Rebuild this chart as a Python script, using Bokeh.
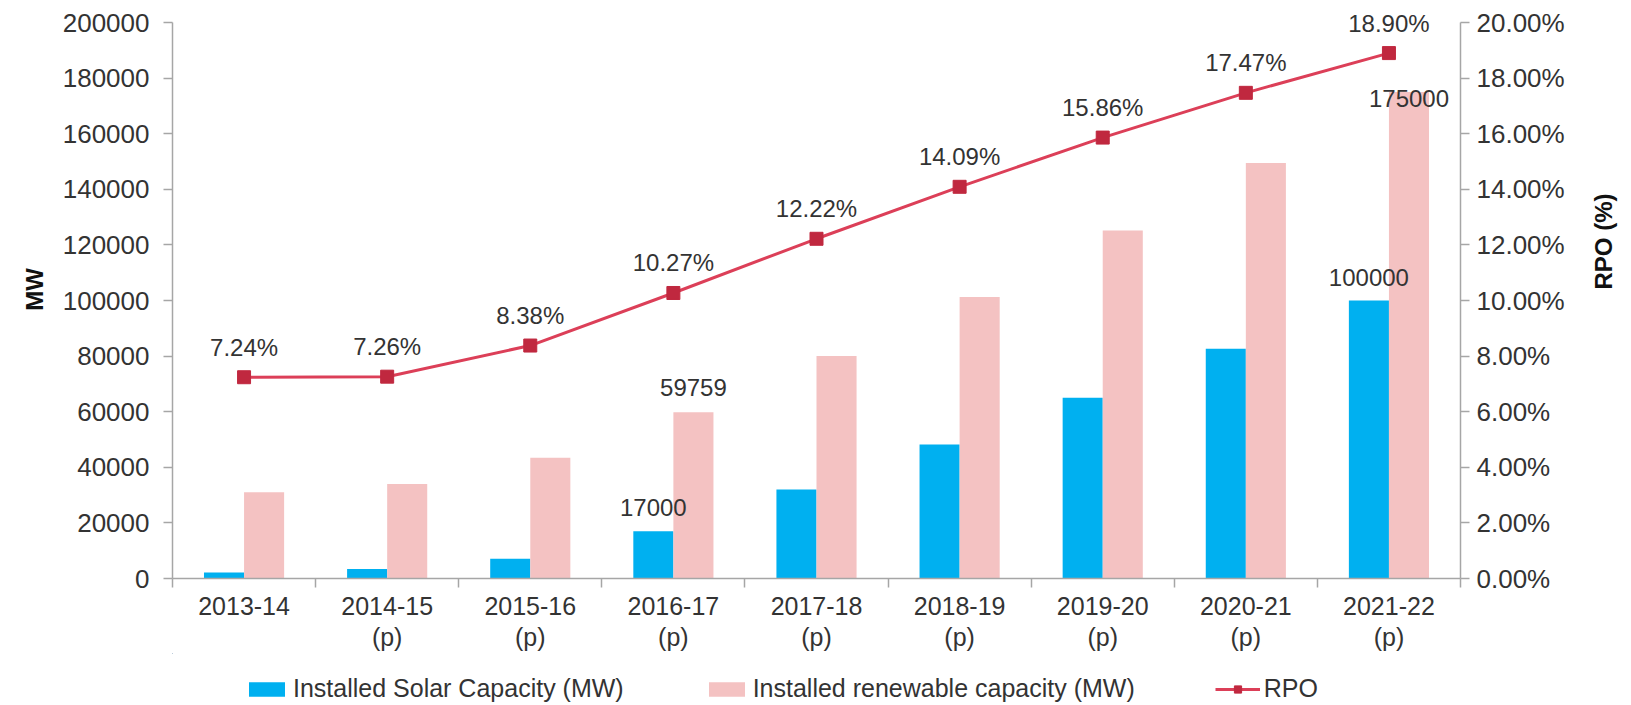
import math
from bokeh.plotting import figure
from bokeh.layouts import column
from bokeh.models import (ColumnDataSource, Range1d, LinearAxis, FixedTicker,
                          SingleIntervalTicker, PrintfTickFormatter, NumeralTickFormatter,
                          Legend, LegendItem)
from bokeh.transform import dodge
from bokeh.core.properties import value
from bokeh.embed import file_html
from bokeh.resources import INLINE

# ---------------- data ----------------
years = ["2013-14", "2014-15", "2015-16", "2016-17", "2017-18",
         "2018-19", "2019-20", "2020-21", "2021-22"]
year_notes = ["", "(p)", "(p)", "(p)", "(p)", "(p)", "(p)", "(p)", "(p)"]
solar_mw = [2200, 3400, 7100, 17000, 32000, 48200, 65000, 82600, 100000]
renewable_mw = [31000, 34000, 43400, 59759, 80000, 101300, 125200, 149500, 175000]
rpo_pct = [7.24, 7.26, 8.38, 10.27, 12.22, 14.09, 15.86, 17.47, 18.90]
# bars that carry a value label in the chart
solar_labelled = ["2016-17", "2021-22"]
renewable_labelled = ["2016-17", "2021-22"]
series_names = ["Installed Solar Capacity (MW)", "Installed renewable capacity (MW)", "RPO"]
MW_MAX = 200000
RPO_MAX = 20

FONT = "Liberation Sans"
TXT = "#333333"
AX = "#A6A6A6"
BLUE = "#00B0F0"
PINK = "#F4C2C2"
RED = "#DC3F58"
RED_D = "#C0283F"

# layout (pixels)
W = 1631
FRAME_W, AXIS_H, TOP_PAD = 1288, 556, 22
MAIN_H, LEG_H = 655, 50
stretch = (AXIS_H + TOP_PAD) / AXIS_H  # frame extends above the axis top to leave room for labels

xc = [i + 0.5 for i in range(len(years))]
src = ColumnDataSource(dict(x=xc, year=years, solar=solar_mw, ren=renewable_mw,
                            rpo=rpo_pct, rpo_txt=["%.2f%%" % v for v in rpo_pct]))

sl = [years.index(y) for y in solar_labelled]
rl = [years.index(y) for y in renewable_labelled]
src_sl = ColumnDataSource(dict(x=[xc[i] for i in sl], y=[solar_mw[i] for i in sl],
                               t=[str(solar_mw[i]) for i in sl], dy=[-24, -23]))
src_rl = ColumnDataSource(dict(x=[xc[i] for i in rl], y=[renewable_mw[i] for i in rl],
                               t=[str(renewable_mw[i]) for i in rl], dy=[-25, 6]))

p = figure(width=W, height=MAIN_H, frame_width=FRAME_W, frame_height=AXIS_H + TOP_PAD,
           output_backend="svg", toolbar_location=None,
           x_range=Range1d(0, len(years)), y_range=Range1d(0, MW_MAX * stretch),
           x_axis_location=None, y_axis_location=None,
           min_border_left=172, min_border_right=171, min_border_top=0,
           min_border_bottom=0, background_fill_color="white",
           border_fill_color="white", outline_line_color=None)
p.grid.visible = False
p.extra_y_ranges = {"rpo": Range1d(0, RPO_MAX * stretch)}

BW = 0.28
bar_solar = dict(fill_color=BLUE, line_color=None)
bar_ren = dict(fill_color=PINK, line_color=None)
line_sty = dict(line_color=RED, line_width=3)
mark_sty = dict(marker="square", size=13, fill_color=RED_D, line_color=RED_D)

p.vbar(x=dodge("x", -0.14, range=p.x_range), top="solar", width=BW, source=src, **bar_solar)
p.vbar(x=dodge("x", 0.14, range=p.x_range), top="ren", width=BW, source=src, **bar_ren)
p.line(x="x", y="rpo", source=src, y_range_name="rpo", **line_sty)
p.scatter(x="x", y="rpo", source=src, y_range_name="rpo", **mark_sty)

p.text(x="x", y="rpo", text="rpo_txt", source=src, y_range_name="rpo",
       text_align="center", text_baseline="middle", y_offset=-30,
       text_font=value(FONT), text_font_size="24px", text_color=TXT)
p.text(x=dodge("x", -0.14, range=p.x_range), y="y", text="t", source=src_sl,
       text_align="center", text_baseline="middle", y_offset="dy",
       text_font=value(FONT), text_font_size="24px", text_color=TXT)
p.text(x=dodge("x", 0.14, range=p.x_range), y="y", text="t", source=src_rl,
       text_align="center", text_baseline="middle", y_offset="dy",
       text_font=value(FONT), text_font_size="24px", text_color=TXT)

def style(ax):
    ax.axis_line_color = AX
    ax.axis_line_width = 1.5
    ax.major_tick_line_color = AX
    ax.major_tick_line_width = 1.5
    ax.major_tick_in = 0
    ax.major_tick_out = 9
    ax.minor_tick_line_color = None
    ax.major_label_text_font = FONT
    ax.major_label_text_font_size = "26px"
    ax.major_label_text_color = TXT
    ax.axis_label_text_font = FONT
    ax.axis_label_text_font_size = "24px"
    ax.axis_label_text_font_style = "bold"
    ax.axis_label_text_color = "#111111"

yl = LinearAxis(ticker=SingleIntervalTicker(interval=20000, num_minor_ticks=0),
                formatter=NumeralTickFormatter(format="0"), axis_label="MW",
                bounds=(0, MW_MAX))
style(yl)
yl.major_label_standoff = 14
yl.axis_label_standoff = 12
p.add_layout(yl, "left")

yr = LinearAxis(y_range_name="rpo", ticker=SingleIntervalTicker(interval=2, num_minor_ticks=0),
                formatter=PrintfTickFormatter(format="%.2f%%"), axis_label="RPO (%)",
                bounds=(0, RPO_MAX))
style(yr)
yr.major_label_standoff = 7
yr.axis_label_standoff = 36
yr.axis_label_orientation = math.pi / 2
p.add_layout(yr, "right")

# x axis: year labels at the category centres, tick marks on category boundaries
xa = LinearAxis(ticker=FixedTicker(ticks=xc, minor_ticks=list(range(len(years) + 1))),
                major_label_overrides={xc[i]: years[i] for i in range(len(years))})
style(xa)
xa.major_label_text_font_size = "25px"
xa.major_tick_line_color = None
xa.minor_tick_line_color = AX
xa.minor_tick_line_width = 1.5
xa.minor_tick_in = 0
xa.minor_tick_out = 9
xa.major_label_standoff = 9
p.add_layout(xa, "below")

# second line of the category labels
xa2 = LinearAxis(ticker=FixedTicker(ticks=xc, minor_ticks=[]),
                 major_label_overrides={xc[i]: (year_notes[i] or " ") for i in range(len(years))})
style(xa2)
xa2.major_label_text_font_size = "25px"
xa2.axis_line_color = None
xa2.major_tick_line_color = None
xa2.major_tick_out = 0
xa2.major_label_standoff = 5
p.add_layout(xa2, "below")

# legend strip below the chart (its sample glyphs lie far outside the strip's visible ranges)
q = figure(width=W, height=LEG_H, output_backend="svg", toolbar_location=None,
           x_range=Range1d(1000, 1001), y_range=Range1d(-2000000, -1000000),
           x_axis_location=None, y_axis_location=None,
           min_border_left=0, min_border_right=0, min_border_top=0, min_border_bottom=0,
           background_fill_color="white", border_fill_color="white", outline_line_color=None)
q.grid.visible = False
q.extra_y_ranges = {"rpo": Range1d(-2000, -1000)}
g1 = q.vbar(x="x", top="solar", width=BW, source=src, **bar_solar)
g2 = q.vbar(x="x", top="ren", width=BW, source=src, **bar_ren)
g3 = q.line(x="x", y="rpo", source=src, y_range_name="rpo", **line_sty)
g4 = q.scatter(x="x", y="rpo", source=src, y_range_name="rpo", **mark_sty)

legend = Legend(items=[LegendItem(label=series_names[0], renderers=[g1]),
                       LegendItem(label=series_names[1], renderers=[g2]),
                       LegendItem(label=series_names[2], renderers=[g3, g4])],
                orientation="horizontal", location=(72, 0),
                label_text_font=FONT, label_text_font_size="25px", label_text_color=TXT,
                glyph_width=45, glyph_height=18, label_standoff=4, spacing=80,
                border_line_color=None, background_fill_alpha=0, padding=4, margin=0)
q.add_layout(legend, "center")

layout = column(p, q, spacing=0)
open("out.html", "w").write(file_html(layout, INLINE))
